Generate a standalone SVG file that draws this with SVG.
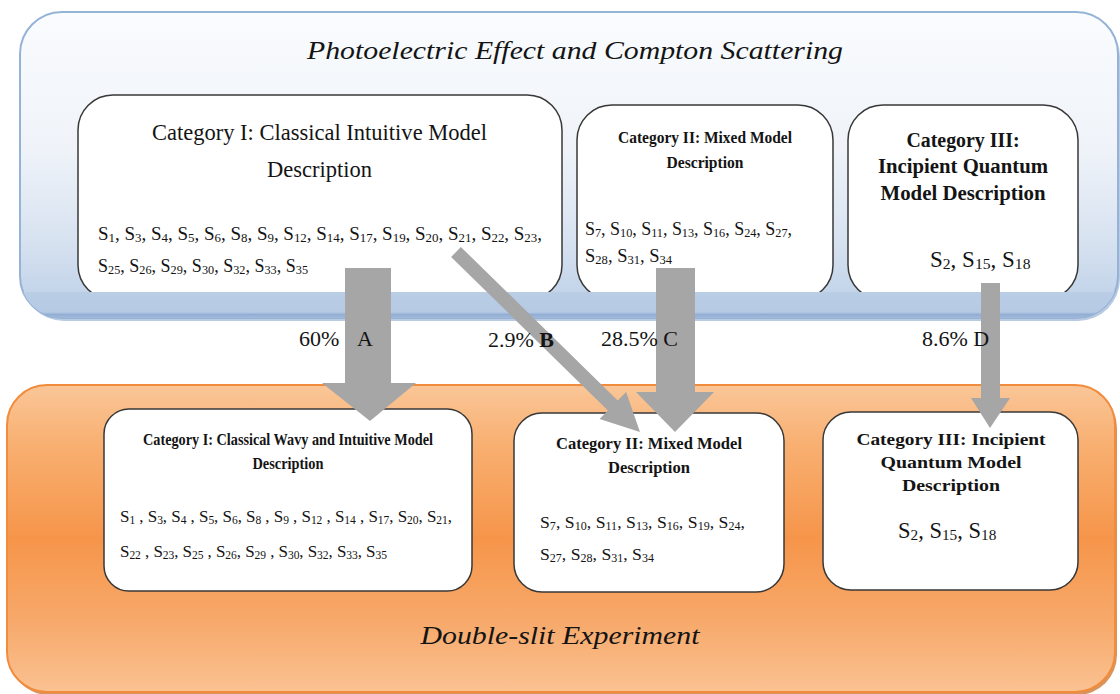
<svg xmlns="http://www.w3.org/2000/svg" width="1120" height="694" viewBox="0 0 1120 694">
<defs>
<linearGradient id="gTop" x1="0" y1="0" x2="0" y2="1">
<stop offset="0" stop-color="#fafcfe"/>
<stop offset="0.45" stop-color="#eff3f9"/>
<stop offset="0.75" stop-color="#d7e2f0"/>
<stop offset="0.92" stop-color="#c3d4ea"/>
<stop offset="1" stop-color="#b9cde5"/>
</linearGradient>
<linearGradient id="gBand" x1="0" y1="0" x2="0" y2="1">
<stop offset="0" stop-color="#b9cde5"/>
<stop offset="0.72" stop-color="#b6cae4"/>
<stop offset="0.8" stop-color="#93aed3"/>
<stop offset="1" stop-color="#a9c0de"/>
</linearGradient>
<linearGradient id="gBot" x1="0" y1="0" x2="0" y2="1">
<stop offset="0" stop-color="#fac698"/>
<stop offset="0.2" stop-color="#f8af70"/>
<stop offset="0.5" stop-color="#f6954a"/>
<stop offset="0.78" stop-color="#f7aa6c"/>
<stop offset="1" stop-color="#fac292"/>
</linearGradient>
<clipPath id="topClip"><rect x="20" y="12" width="1098" height="306" rx="42"/></clipPath>
</defs>
<style>
.box{fill:#ffffff;stroke:#383838;stroke-width:1.5}
.t{font-family:"Liberation Serif","Times New Roman",serif;fill:#141414}
.h{font-weight:bold}
.c{text-anchor:middle}
.b{font-size:68%;baseline-shift:-2px}
.arr{fill:#a6a6a6}
</style>

<g id="panel-top">
<rect x="22" y="15" width="1098" height="306" rx="42" fill="#8aa7cf" opacity="0.6"/>
<rect x="20" y="12" width="1098" height="306" rx="42" fill="url(#gTop)" stroke="#95b3d7" stroke-width="2"/>
</g>

<g id="panel-bottom">
<rect x="9" y="388" width="1108" height="307" rx="40" fill="#c8661a" opacity="0.7"/>
<rect x="7" y="385" width="1108" height="307" rx="40" fill="url(#gBot)" stroke="#f08c3c" stroke-width="2"/>
<text class="t c" x="560" y="644" font-size="25" font-style="italic" textLength="279" lengthAdjust="spacingAndGlyphs">Double-slit Experiment</text>
</g>

<text class="t c" x="575" y="59" font-size="25" font-style="italic" textLength="536" lengthAdjust="spacingAndGlyphs">Photoelectric Effect and Compton Scattering</text>

<g id="top-cat1">
<rect class="box" x="78" y="95" width="484" height="205" rx="35"/>
<text class="t c" x="319.5" y="140" font-size="23" textLength="335" lengthAdjust="spacingAndGlyphs">Category I: Classical Intuitive Model</text>
<text class="t c" x="319.5" y="177" font-size="23" textLength="105" lengthAdjust="spacingAndGlyphs">Description</text>
<text class="t" x="98" y="240" font-size="19" textLength="444" lengthAdjust="spacing">S<tspan class="b">1</tspan>, S<tspan class="b">3</tspan>, S<tspan class="b">4</tspan>, S<tspan class="b">5</tspan>, S<tspan class="b">6</tspan>, S<tspan class="b">8</tspan>, S<tspan class="b">9</tspan>, S<tspan class="b">12</tspan>, S<tspan class="b">14</tspan>, S<tspan class="b">17</tspan>, S<tspan class="b">19</tspan>, S<tspan class="b">20</tspan>, S<tspan class="b">21</tspan>, S<tspan class="b">22</tspan>, S<tspan class="b">23</tspan>,</text>
<text class="t" x="98" y="272" font-size="18" textLength="210" lengthAdjust="spacing">S<tspan class="b">25</tspan>, S<tspan class="b">26</tspan>, S<tspan class="b">29</tspan>, S<tspan class="b">30</tspan>, S<tspan class="b">32</tspan>, S<tspan class="b">33</tspan>, S<tspan class="b">35</tspan></text>
</g>

<g id="top-cat2">
<rect class="box" x="577" y="105" width="256" height="195" rx="35"/>
<text class="t h c" x="705" y="143" font-size="17" textLength="174" lengthAdjust="spacingAndGlyphs">Category II: Mixed Model</text>
<text class="t h c" x="705" y="168" font-size="17" textLength="77" lengthAdjust="spacingAndGlyphs">Description</text>
<text class="t" x="585" y="235" font-size="18" textLength="207" lengthAdjust="spacing">S<tspan class="b">7</tspan>, S<tspan class="b">10</tspan>, S<tspan class="b">11</tspan>, S<tspan class="b">13</tspan>, S<tspan class="b">16</tspan>, S<tspan class="b">24</tspan>, S<tspan class="b">27</tspan>,</text>
<text class="t" x="585" y="262" font-size="18.5">S<tspan class="b">28</tspan>, S<tspan class="b">31</tspan>, S<tspan class="b">34</tspan></text>
</g>

<g id="top-cat3">
<rect class="box" x="848" y="105" width="230" height="195" rx="35"/>
<text class="t h c" x="963" y="147" font-size="20" textLength="113" lengthAdjust="spacingAndGlyphs">Category III:</text>
<text class="t h c" x="963" y="173" font-size="20" textLength="170" lengthAdjust="spacingAndGlyphs">Incipient Quantum</text>
<text class="t h c" x="963" y="200" font-size="20" textLength="165" lengthAdjust="spacingAndGlyphs">Model Description</text>
<text class="t" x="930" y="267" font-size="23">S<tspan class="b">2</tspan>, S<tspan class="b">15</tspan>, S<tspan class="b">18</tspan></text>
</g>

<rect x="18" y="292" width="1104" height="28" fill="url(#gBand)" clip-path="url(#topClip)"/>

<g id="bot-cat1">
<rect class="box" x="104" y="409" width="368" height="182" rx="25"/>
<text class="t h c" x="288" y="445" font-size="16" textLength="290" lengthAdjust="spacingAndGlyphs">Category I: Classical Wavy and Intuitive Model</text>
<text class="t h c" x="288" y="469" font-size="16" textLength="71" lengthAdjust="spacingAndGlyphs">Description</text>
<text class="t" x="120" y="522" font-size="17" textLength="332" lengthAdjust="spacing">S<tspan class="b">1</tspan> , S<tspan class="b">3</tspan>, S<tspan class="b">4</tspan> , S<tspan class="b">5</tspan>, S<tspan class="b">6</tspan>, S<tspan class="b">8</tspan> , S<tspan class="b">9</tspan> , S<tspan class="b">12</tspan> , S<tspan class="b">14</tspan> , S<tspan class="b">17</tspan>, S<tspan class="b">20</tspan>, S<tspan class="b">21</tspan>,</text>
<text class="t" x="120" y="557" font-size="17" textLength="267" lengthAdjust="spacing">S<tspan class="b">22</tspan> , S<tspan class="b">23</tspan>, S<tspan class="b">25</tspan> , S<tspan class="b">26</tspan>, S<tspan class="b">29</tspan> , S<tspan class="b">30</tspan>, S<tspan class="b">32</tspan>, S<tspan class="b">33</tspan>, S<tspan class="b">35</tspan></text>
</g>

<g id="bot-cat2">
<rect class="box" x="514" y="413" width="270" height="179" rx="28"/>
<text class="t h c" x="649" y="449" font-size="17" textLength="186" lengthAdjust="spacingAndGlyphs">Category II: Mixed Model</text>
<text class="t h c" x="649" y="473" font-size="17" textLength="82" lengthAdjust="spacingAndGlyphs">Description</text>
<text class="t" x="540" y="528" font-size="17.7" textLength="205" lengthAdjust="spacing">S<tspan class="b">7</tspan>, S<tspan class="b">10</tspan>, S<tspan class="b">11</tspan>, S<tspan class="b">13</tspan>, S<tspan class="b">16</tspan>, S<tspan class="b">19</tspan>, S<tspan class="b">24</tspan>,</text>
<text class="t" x="540" y="560" font-size="17.7">S<tspan class="b">27</tspan>, S<tspan class="b">28</tspan>, S<tspan class="b">31</tspan>, S<tspan class="b">34</tspan></text>
</g>

<g id="bot-cat3">
<rect class="box" x="823" y="412" width="255" height="178" rx="28"/>
<text class="t h c" x="951" y="445" font-size="17" textLength="189" lengthAdjust="spacingAndGlyphs">Category III: Incipient</text>
<text class="t h c" x="951" y="468" font-size="17" textLength="141" lengthAdjust="spacingAndGlyphs">Quantum Model</text>
<text class="t h c" x="951" y="491" font-size="17" textLength="98" lengthAdjust="spacingAndGlyphs">Description</text>
<text class="t" x="898" y="538" font-size="22.5">S<tspan class="b">2</tspan>, S<tspan class="b">15</tspan>, S<tspan class="b">18</tspan></text>
</g>

<g id="connectors">
<polygon class="arr" points="345,268 391,268 391,383 416,383 370,421 322,383 345,383"/>
<polygon class="arr" points="460.9,247 617.7,400.4 626.1,391.9 640,432 599.6,419 607.9,410.4 451.1,257"/>
<polygon class="arr" points="656,268 695,268 695,392 714,392 675,432 636,392 656,392"/>
<polygon class="arr" points="981,283 1000,283 1000,398 1010,398 990,428 971,398 981,398"/>
</g>

<g id="labels">
<text class="t" x="299" y="346" font-size="22">60%<tspan x="357">A</tspan></text>
<text class="t" x="488" y="347" font-size="22">2.9% <tspan font-weight="bold">B</tspan></text>
<text class="t" x="601" y="346" font-size="22">28.5% C</text>
<text class="t" x="922" y="346" font-size="22">8.6% D</text>
</g>
</svg>
